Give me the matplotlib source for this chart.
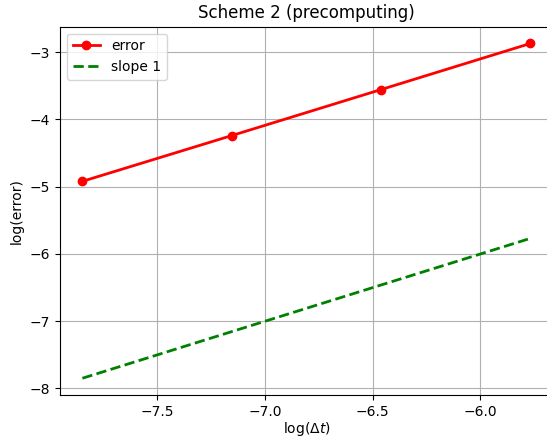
import numpy as np
import matplotlib
matplotlib.use("Agg")
import matplotlib.pyplot as plt

# log(dt) values and log(error)
log_dt = [-7.848, -7.155, -6.461, -5.768]
log_err = [-4.92, -4.24, -3.555, -2.87]
# slope 1 reference line
slope_y = [-7.848, -7.155, -6.461, -5.768]

fig = plt.figure(figsize=(5.47, 4.4), dpi=100)
ax = fig.add_axes([0.1097, 0.1023, 0.901, 0.8370])

ax.plot(log_dt, log_err, 'r-o', linewidth=2, markersize=6, label='error')
ax.plot(log_dt, slope_y, 'g--', linewidth=2, label='slope 1')

ax.set_title('Scheme 2 (precomputing)')
ax.set_xlabel(r'log($\Delta t$)', labelpad=1)
ax.set_ylabel('log(error)')
ax.grid(True)
ax.legend(loc='upper left')

fig.savefig('out.png', dpi=100)
